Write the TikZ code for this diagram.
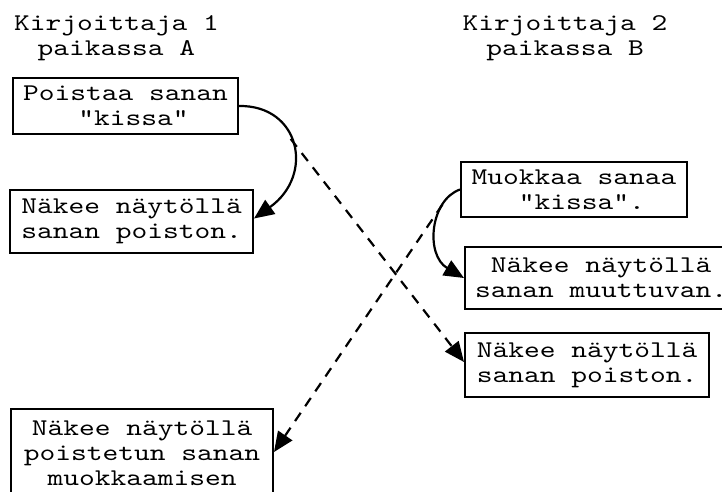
\documentclass[tikz,border=0pt]{standalone}
\usepackage{fontspec}
\newfontfamily\typewriter{lmmono10-regular.otf}[FakeStretch=1.25]
\usetikzlibrary{arrows.meta,calc}

\tikzset{
  txt/.style={inner sep=0pt, align=center,
    font=\typewriter\fontsize{24}{25}\selectfont},
  stepbox/.style={txt, draw, line width=2pt},
  conn/.style={line width=2.2pt, -{Triangle[length=20pt,width=17pt]}},
  remote/.style={conn, dash pattern=on 10pt off 8pt},
}

\begin{document}
\begin{tikzpicture}[x=1pt,y=-1pt]
  \useasboundingbox (0,0) rectangle (722,492);

  % column headings
  \node[txt, anchor=north] (h1) at (116.5,15) {Kirjoittaja 1\\paikassa A};
  \node[txt, anchor=north] (h2) at (565,15) {Kirjoittaja 2\\paikassa B};

  % writer 1
  \node[stepbox, minimum width=225pt, minimum height=56pt] (a1) at (125.5,106)
    {Poistaa sanan\\\hphantom{x}"kissa"};
  \node[stepbox, minimum width=243pt, minimum height=63pt] (a2) at (131.5,221.5)
    {Näkee näytöllä\\sanan poiston.};
  \node[stepbox, minimum width=262pt, minimum height=88pt] (a3) at (142,453)
    {Näkee näytöllä\\poistetun sanan\\muokkaamisen};

  % writer 2
  \node[stepbox, minimum width=226pt, minimum height=55pt] (b1) at (574,189.5)
    {Muokkaa sanaa\\\hphantom{x}"kissa".};
  \node[stepbox, minimum width=272pt, minimum height=62pt] (b2) at (601,278)
    {Näkee näytöllä\\sanan muuttuvan.};
  \node[stepbox, minimum width=244pt, minimum height=64pt] (b3) at (587,365)
    {Näkee näytöllä\\sanan poiston.};

  % local feedback
  \draw[conn] (a1.east) .. controls (300,105) and (315,175) ..
    ($(a2.east)+(0,-3)$) coordinate[pos=0.45] (s1);
  \draw[conn] (b1.west) .. controls (430,200) and (425,255) ..
    (b2.west) coordinate[pos=0.25] (s2);

  % remote propagation
  \draw[remote] (s1) -- ($(b3.west)+(0,-3)$);
  \draw[remote] (s2) -- ($(a3.east)+(0,-1)$);
\end{tikzpicture}
\end{document}
